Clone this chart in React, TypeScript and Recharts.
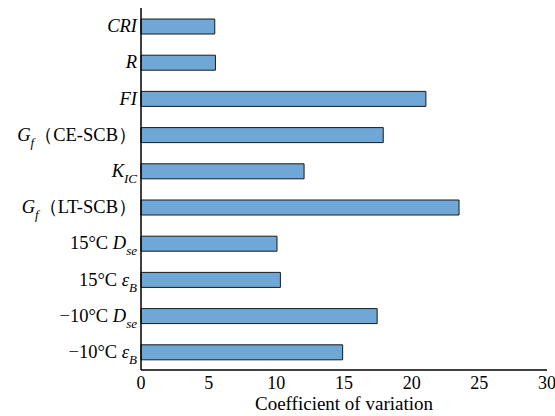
import React from 'react';
import { BarChart, Bar, XAxis, YAxis } from 'recharts';

// categories top to bottom, with label parts: [text, italic, subscript]
const categories = ['CRI', 'R', 'FI', 'Gf-CE', 'KIC', 'Gf-LT', '15Dse', '15eB', '-10Dse', '-10eB'];
const cvValues = [5.45, 5.5, 21.05, 17.9, 12.05, 23.5, 10.05, 10.3, 17.45, 14.9];
const xTicks = [0, 5, 10, 15, 20, 25, 30];
const xMinorTicks = [2.5, 7.5, 12.5, 17.5, 22.5, 27.5];
const yBoundaryTicks = [1, 2, 3, 4, 5, 6, 7, 8, 9];

type Part = { t: string; i?: boolean; sub?: boolean };
const labelParts: Record<string, Part[]> = {
  CRI: [{ t: 'CRI', i: true }],
  R: [{ t: 'R', i: true }],
  FI: [{ t: 'FI', i: true }],
  'Gf-CE': [{ t: 'G', i: true }, { t: 'f', i: true, sub: true }, { t: '（CE-SCB）' }],
  KIC: [{ t: 'K', i: true }, { t: 'IC', i: true, sub: true }],
  'Gf-LT': [{ t: 'G', i: true }, { t: 'f', i: true, sub: true }, { t: '（LT-SCB）' }],
  '15Dse': [{ t: '15°C ' }, { t: 'D', i: true }, { t: 'se', i: true, sub: true }],
  '15eB': [{ t: '15°C ' }, { t: 'ε', i: true }, { t: 'B', i: true, sub: true }],
  '-10Dse': [{ t: '−10°C ' }, { t: 'D', i: true }, { t: 'se', i: true, sub: true }],
  '-10eB': [{ t: '−10°C ' }, { t: 'ε', i: true }, { t: 'B', i: true, sub: true }],
};

const data = categories.map((name, k) => ({ name, cv: cvValues[k] }));

const FONT = "'Liberation Serif', serif";

function CategoryTick(props: any) {
  const { x, y, payload } = props;
  const parts = labelParts[payload.value] || [{ t: payload.value }];
  let down = false;
  return (
    <text x={x} y={y + 6} textAnchor="end" style={{ fontFamily: FONT }} fontSize={18.5} fill="#000">
      {parts.map((p, k) => {
        let dy = 0;
        if (p.sub && !down) { dy = 6; down = true; }
        else if (!p.sub && down) { dy = -6; down = false; }
        return (
          <tspan key={k} dy={dy} fontStyle={p.i ? 'italic' : 'normal'} fontSize={p.sub ? 13 : 18.5}>
            {p.t}
          </tspan>
        );
      })}
    </text>
  );
}

function ValueTick(props: any) {
  const { x, y, payload } = props;
  return (
    <text x={x} y={y + 13} textAnchor="middle" style={{ fontFamily: FONT }} fontSize={18} fill="#000">
      {payload.value}
    </text>
  );
}

function AxisTitle(props: any) {
  const { viewBox } = props;
  const cx = viewBox.x + viewBox.width / 2;
  return (
    <text x={cx} y={410} textAnchor="middle" style={{ fontFamily: FONT }} fontSize={19} fill="#000">
      Coefficient of variation
    </text>
  );
}

export default function App() {
  return (
    <div style={{ position: 'absolute', left: 0, top: 0 }}>
      <BarChart
        width={555}
        height={416}
        data={data}
        layout="vertical"
        barCategoryGap={0}
        margin={{ top: 8, right: 8, bottom: 0, left: 0 }}
      >
        <XAxis
          xAxisId="main"
          type="number"
          domain={[0, 30]}
          ticks={xTicks}
          height={46}
          tickLine={false}
          tickSize={3}
          tickMargin={3}
          axisLine={{ stroke: '#000', strokeWidth: 1.5 }}
          tick={<ValueTick />}
          label={<AxisTitle />}
        />
        <XAxis
          xAxisId="major"
          type="number"
          domain={[0, 30]}
          ticks={xTicks}
          mirror
          height={0}
          tick={false}
          axisLine={false}
          tickSize={5}
          tickLine={{ stroke: '#000' }}
        />
        <XAxis
          xAxisId="minor"
          type="number"
          domain={[0, 30]}
          ticks={xMinorTicks}
          mirror
          height={0}
          tick={false}
          axisLine={false}
          tickSize={3}
          tickLine={{ stroke: '#000' }}
        />
        <XAxis
          xAxisId="top"
          orientation="top"
          type="number"
          domain={[0, 30]}
          height={0}
          tick={false}
          tickLine={false}
          axisLine={{ stroke: '#666' }}
        />
        <YAxis
          yAxisId="cat"
          type="category"
          dataKey="name"
          width={141}
          tickLine={false}
          tickSize={4}
          tickMargin={0}
          axisLine={{ stroke: '#000', strokeWidth: 1.5 }}
          tick={<CategoryTick />}
          interval={0}
        />
        <YAxis
          yAxisId="bounds"
          type="number"
          domain={[0, 10]}
          ticks={yBoundaryTicks}
          mirror
          width={0}
          tick={false}
          axisLine={false}
          tickSize={3}
          tickLine={{ stroke: '#000' }}
        />
        <YAxis
          yAxisId="right"
          orientation="right"
          type="number"
          domain={[0, 10]}
          width={0}
          tick={false}
          tickLine={false}
          axisLine={{ stroke: '#666' }}
        />
        <Bar
          xAxisId="main"
          yAxisId="cat"
          dataKey="cv"
          barSize={15}
          fill="#6fa7d6"
          stroke="#1a1a1a"
          strokeWidth={1}
          isAnimationActive={false}
        />
      </BarChart>
    </div>
  );
}
